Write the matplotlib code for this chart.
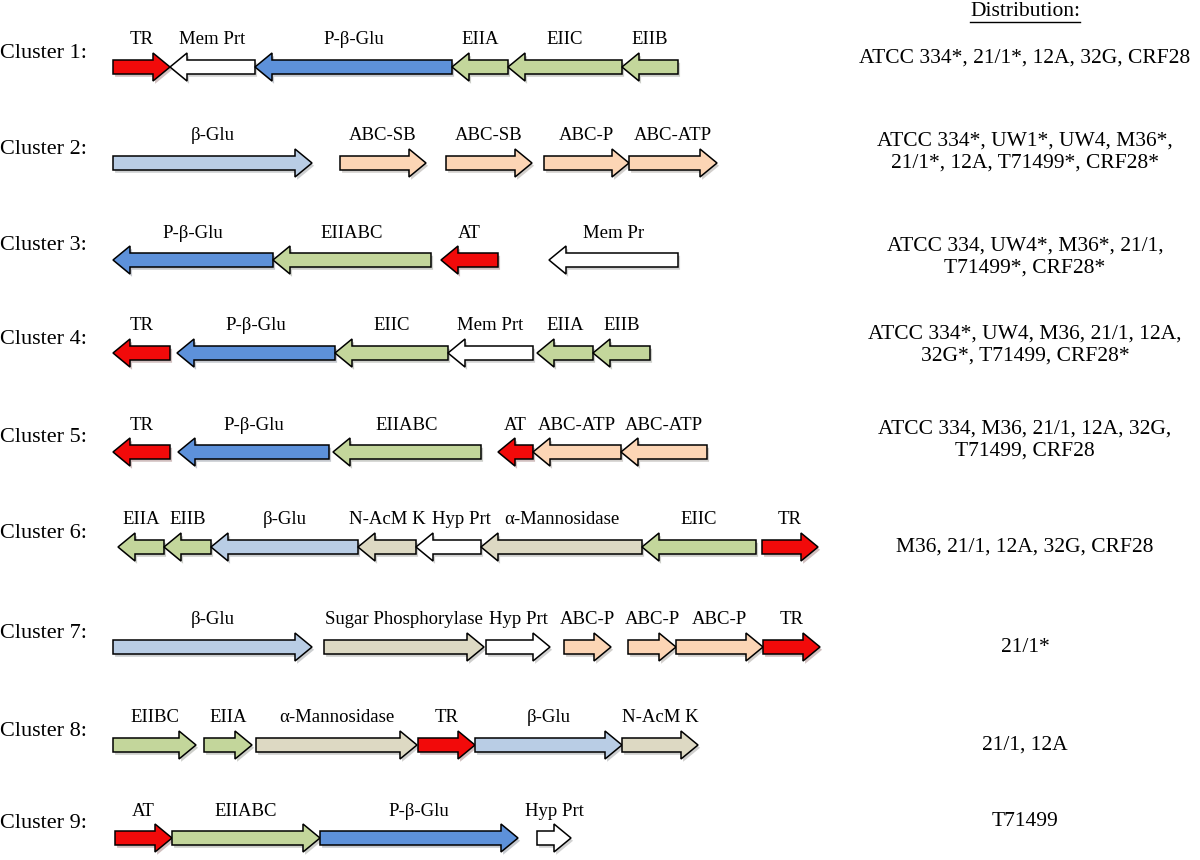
import matplotlib
matplotlib.use("Agg")
import matplotlib.pyplot as plt
from matplotlib.patches import Polygon
import matplotlib.patheffects as pe

plt.rcParams['font.family'] = ['Liberation Serif', 'DejaVu Serif']

# gene names, left/right ends (px along the cluster), strand (+1 right, -1 left)
c1_names = ["TR", "Mem Prt", "P-β-Glu", "EIIA", "EIIC", "EIIB"]
c1_left = [113, 170, 255, 452, 508, 622]
c1_right = [170, 255, 452, 508, 622, 678]
c1_strand = [1, -1, -1, -1, -1, -1]

c2_names = ["β-Glu", "ABC-SB", "ABC-SB", "ABC-P", "ABC-ATP"]
c2_left = [113, 340, 446, 544, 629]
c2_right = [312, 426, 532, 629, 717]
c2_strand = [1, 1, 1, 1, 1]

c3_names = ["P-β-Glu", "EIIABC", "AT", "Mem Pr"]
c3_left = [113, 273, 441, 549]
c3_right = [273, 431, 498, 678]
c3_strand = [-1, -1, -1, -1]

c4_names = ["TR", "P-β-Glu", "EIIC", "Mem Prt", "EIIA", "EIIB"]
c4_left = [113, 177, 335, 448, 537, 593]
c4_right = [170, 335, 448, 533, 593, 650]
c4_strand = [-1, -1, -1, -1, -1, -1]

c5_names = ["TR", "P-β-Glu", "EIIABC", "AT", "ABC-ATP", "ABC-ATP"]
c5_left = [113, 178, 333, 498, 533, 621]
c5_right = [170, 329, 481, 533, 621, 707]
c5_strand = [-1, -1, -1, -1, -1, -1]

c6_names = ["EIIA", "EIIB", "β-Glu", "N-AcM K", "Hyp Prt", "α-Mannosidase", "EIIC", "TR"]
c6_left = [118, 164, 211, 358, 416, 481, 642, 762]
c6_right = [164, 211, 358, 416, 481, 642, 756, 818]
c6_strand = [-1, -1, -1, -1, -1, -1, -1, 1]

c7_names = ["β-Glu", "Sugar Phosphorylase", "Hyp Prt", "ABC-P", "ABC-P", "ABC-P", "TR"]
c7_left = [113, 324, 486, 564, 628, 676, 763]
c7_right = [312, 484, 550, 611, 676, 763, 820]
c7_strand = [1, 1, 1, 1, 1, 1, 1]

c8_names = ["EIIBC", "EIIA", "α-Mannosidase", "TR", "β-Glu", "N-AcM K"]
c8_left = [113, 204, 256, 418, 475, 622]
c8_right = [196, 252, 417, 475, 622, 698]
c8_strand = [1, 1, 1, 1, 1, 1]

c9_names = ["AT", "EIIABC", "P-β-Glu", "Hyp Prt"]
c9_left = [115, 172, 320, 537]
c9_right = [172, 320, 518, 571]
c9_strand = [1, 1, 1, 1]

distribution = [
    "ATCC 334*, 21/1*, 12A, 32G, CRF28",
    "ATCC 334*, UW1*, UW4, M36*,\n21/1*, 12A, T71499*, CRF28*",
    "ATCC 334, UW4*, M36*, 21/1,\nT71499*, CRF28*",
    "ATCC 334*, UW4, M36, 21/1, 12A,\n32G*, T71499, CRF28*",
    "ATCC 334, M36, 21/1, 12A, 32G,\nT71499, CRF28",
    "M36, 21/1, 12A, 32G, CRF28",
    "21/1*",
    "21/1, 12A",
    "T71499",
]

clusters = [
    (c1_names, c1_left, c1_right, c1_strand),
    (c2_names, c2_left, c2_right, c2_strand),
    (c3_names, c3_left, c3_right, c3_strand),
    (c4_names, c4_left, c4_right, c4_strand),
    (c5_names, c5_left, c5_right, c5_strand),
    (c6_names, c6_left, c6_right, c6_strand),
    (c7_names, c7_left, c7_right, c7_strand),
    (c8_names, c8_left, c8_right, c8_strand),
    (c9_names, c9_left, c9_right, c9_strand),
]

# layout
row_y = [67, 163, 260, 353, 452, 547, 647, 745, 838]
dist_y = [58, 152, 257, 345, 440, 547, 647, 745, 822]


def gene_color(name):
    if name in ("TR", "AT"):
        return "#f20a0a"
    if name.startswith("Mem") or name.startswith("Hyp"):
        return "#ffffff"
    if name == "P-β-Glu":
        return "#5d91da"
    if name == "β-Glu":
        return "#b9cde5"
    if name.startswith("EII"):
        return "#c3d69b"
    if name.startswith("ABC"):
        return "#fcd5b5"
    return "#ddd9c3"


def arrow_pts(x0, x1, y, strand, bh=7, hh=14, hl=17):
    hl = min(hl, (x1 - x0) * 0.6)
    if strand > 0:
        return [(x0, y - bh), (x1 - hl, y - bh), (x1 - hl, y - hh), (x1, y),
                (x1 - hl, y + hh), (x1 - hl, y + bh), (x0, y + bh)]
    return [(x1, y - bh), (x0 + hl, y - bh), (x0 + hl, y - hh), (x0, y),
            (x0 + hl, y + hh), (x0 + hl, y + bh), (x1, y + bh)]


fig = plt.figure(figsize=(12, 8.6), dpi=100)
ax = fig.add_axes([0, 0, 1, 1])
ax.set_xlim(0, 1200)
ax.set_ylim(860, 0)
ax.axis("off")

shadow = [pe.SimplePatchShadow(offset=(1.5, -2), alpha=0.25), pe.Normal()]

for i, (names, left, right, strand) in enumerate(clusters):
    y = row_y[i]
    ax.text(0, y - 14, f"Cluster {i + 1}:", fontsize=16, ha="left", va="center")
    for n, a, b, s in zip(names, left, right, strand):
        poly = Polygon(arrow_pts(a, b, y, s), closed=True, facecolor=gene_color(n),
                       edgecolor="black", linewidth=1.1, zorder=2)
        poly.set_path_effects(shadow)
        ax.add_patch(poly)
        # the crowded Hyp Prt label in cluster 6 sits a little right, as in the source
        lx = (a + b) / 2 + (13 if (i == 5 and n == "Hyp Prt") else 0)
        ax.text(lx, y - 27, n, fontsize=13.5, ha="center", va="center")
    ax.text(1025, dist_y[i], distribution[i], fontsize=15.5, ha="center", va="center",
            linespacing=1.15)

title = ax.text(1025, 12, "Distribution:", fontsize=15.5, ha="center", va="center")
fig.canvas.draw()
bb = title.get_window_extent().transformed(ax.transData.inverted())
ax.plot([bb.x0, bb.x1], [22, 22], color="black", linewidth=1)

fig.savefig("out.png", dpi=100)
